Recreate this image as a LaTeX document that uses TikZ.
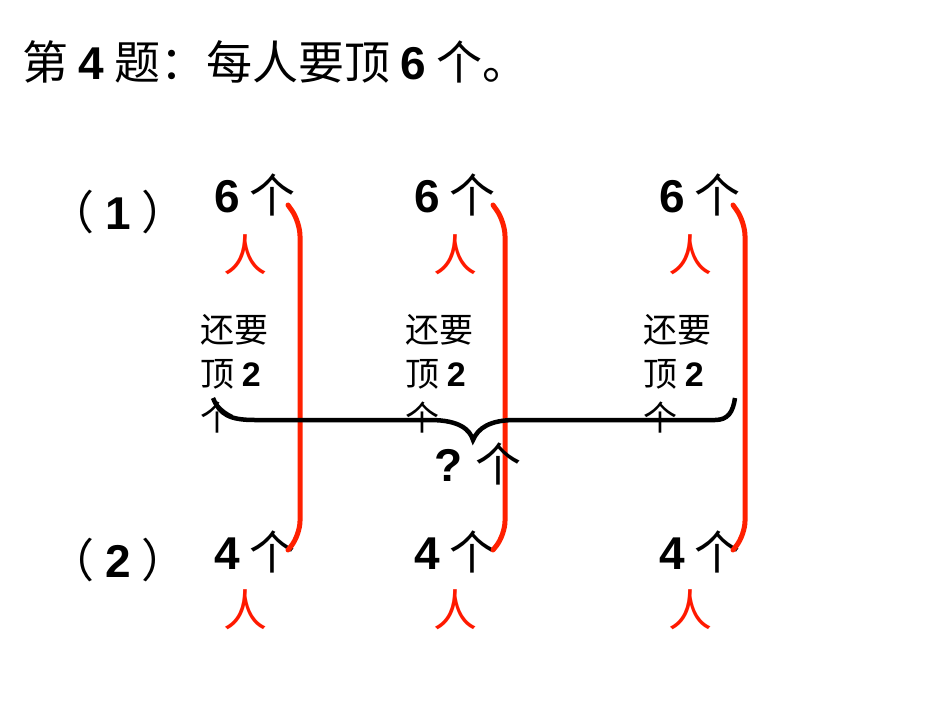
\documentclass[tikz,border=0pt]{standalone}
\usepackage{fontspec}
\setmainfont{Liberation Sans}
\newfontfamily\cjk{Noto Sans CJK SC}
\newcommand{\dg}[1]{{\normalfont\bfseries #1}}
\begin{document}
\begin{tikzpicture}[x=1pt,y=-1pt,
  big/.style={font=\cjk\fontsize{46}{48}\selectfont, inner sep=0pt},
  ren/.style={font=\cjk\fontsize{44}{46}\selectfont, text=red!80!orange, inner sep=0pt},
  small/.style={font=\cjk\fontsize{34}{44}\selectfont, align=left, inner sep=0pt, anchor=north west},
  rb/.style={draw=red!75!orange, line width=5pt, line cap=round, rounded corners=14pt}]
\useasboundingbox (0,0) rectangle (950,713);
\node[big, anchor=west] (title) at (22,62) {第 \dg{4} 题：每人要顶 \dg{6} 个。};
\node[big] (p1) at (118,212) {（ \dg{1} ）};
\node[big] (p2) at (118,560) {（ \dg{2} ）};
\foreach \x/\r/\b/\s [count=\i] in {255/245/300/200, 455/455/505/405, 700/690/745/643}{
  \node[big] (t\i) at (\x,195) {\dg{6} 个};
  \node[ren] (ra\i) at (\r,255) {人};
  \node[big] (b\i) at (\x,552) {\dg{4} 个};
  \node[ren] (rb\i) at (\r,610) {人};
  \node[small] (s\i) at (\s,314) {还要\\顶 \dg{2}\\个};
  \draw[rb] (\b-12,205) -- (\b,222) -- (\b,535) -- (\b-12,550);
}
\draw[line width=4.5pt] (213,398) .. controls (220,415) and (230,420) .. (255,420)
  -- (430,420) .. controls (460,420) and (470,430) .. (473,440)
  .. controls (478,428) and (490,420) .. (515,420) -- (715,420)
  .. controls (728,420) and (733,412) .. (735,398);
\node[big] (q) at (478,464) {\dg{?} 个};
\end{tikzpicture}
\end{document}
